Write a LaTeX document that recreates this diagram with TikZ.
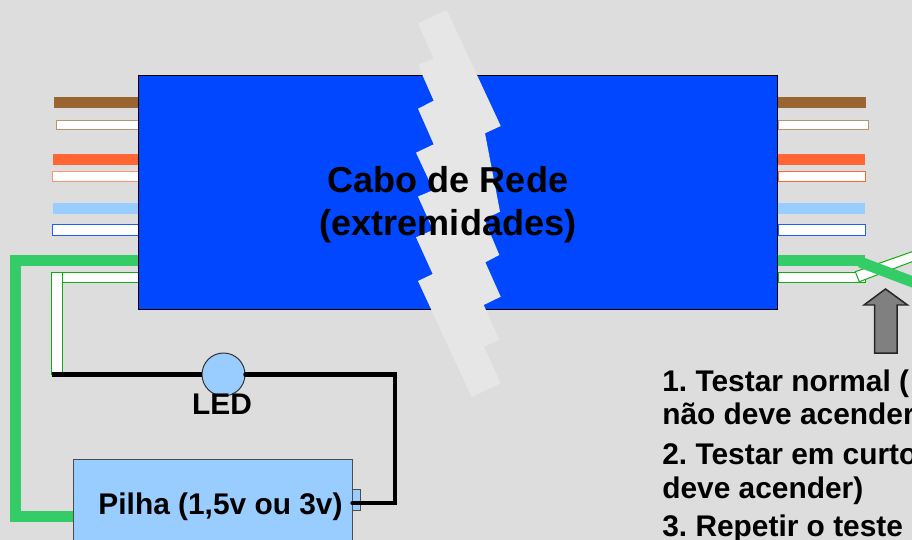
\documentclass[tikz,border=0pt]{standalone}
\usepackage{fontspec}
\setmainfont{Liberation Sans}
\usepackage{color,xcolor}
\definecolor{fundo}{HTML}{DDDDDD}
\definecolor{azulcabo}{HTML}{0047FF}
\definecolor{marrom}{HTML}{996633}
\definecolor{laranja}{HTML}{FF6633}
\definecolor{azulclaro}{HTML}{99CCFF}
\definecolor{azulfio}{HTML}{1F5CFF}
\definecolor{verde}{HTML}{33CC66}
\definecolor{verdefio}{HTML}{11AA11}
\definecolor{faixa}{HTML}{E6E6E6}
\frenchspacing
\tikzset{
  fio/.style={draw=#1,fill=white,line width=0.02cm},
  preto/.style={black,line width=0.09cm},
  verdao/.style={verde,line width=0.22cm},
  titulo/.style={font=\bfseries\fontsize{20.5pt}{24.4pt}\selectfont,align=center},
  rotulo/.style={font=\bfseries\fontsize{17pt}{20pt}\selectfont},
  passo/.style={rotulo,anchor=base west,inner sep=0pt}
}
\begin{document}
\begin{tikzpicture}[x=0.02cm,y=-0.02cm]
    \clip (0,0) rectangle (912,540);
    \fill[fundo] (0,0) rectangle (912,540);
    % fios da esquerda
    \fill[marrom](54,97) rectangle (138,108);
    \draw[fio=marrom!70](56.5,120.5) rectangle (138,130);
    \fill[laranja](53,154) rectangle (138,165);
    \draw[fio=laranja!70](52.5,171.5) rectangle (138,182);
    \fill[azulclaro](53,203) rectangle (138,214);
    \draw[fio=azulfio](52.5,225) rectangle (138,235.5);
    \draw[fio=verdefio](52,272.5) rectangle (138,282.5);
    \draw[fio=verdefio](51.5,272.5) rectangle (62.5,374);
    % fios da direita
    \fill[marrom](778,97) rectangle (866,108);
    \draw[fio=marrom!70](778,120.5) rectangle (868.5,130);
    \fill[laranja](778,154) rectangle (865,165);
    \draw[fio=laranja](778,171.5) rectangle (865,182);
    \fill[azulclaro](778,203) rectangle (865,214);
    \draw[fio=azulfio](778,225) rectangle (865,235.5);
    \draw[fio=verdefio](778,272.5) rectangle (865,282.5);
    \draw[fio=verdefio](855.3,271.7)--(859.3,281.7)--(930,254.9)--(926,246.8)--cycle; % fio cruzado
    \fill[verde](778,255) rectangle (865,266);
    \draw[verdao](860,262)--(930,288.5); % fio em curto
    % cabo
    \node[draw=black,fill=azulcabo,line width=0.02cm,minimum width=12.8cm,minimum height=4.7cm,inner sep=0pt] (cabo) at (458,192.5) {};
    \fill[faixa](418,23.3)--(446.7,10)--(500.7,126)--(485,133.3)--(500,211.7)--(484.3,219.3)--(499.3,255)--(485.3,262.3)--(500.7,296.7)--(483.7,305)--(499.3,340)--(484,346.7)--(500.7,383.3)--(471.7,397)--(418,281)--(432.7,274)--(416,237.3)--(433,230)--(418,196.5)--(433.5,190)--(416,152.7)--(433.7,144.3)--(418,108.7)--(433.7,100.7)--(418,65)--(433.7,58.7)--cycle;
    \node[titulo] (nomecabo) at (448,205) {Cabo de Rede\\(extremidades)};
    % pilha e LED
    \node[draw=black!70,fill=azulclaro,line width=0.02cm,minimum width=5.57cm,minimum height=2.4cm,inner sep=0pt] (pilha) at (212.8,519) {};
    \node[draw=black!70,fill=azulclaro,line width=0.02cm,minimum width=0.16cm,minimum height=0.43cm,inner sep=0pt] (polo) at (356,500) {};
    \coordinate (fimfio) at (52,374.5);
    \coordinate (canto) at (395,374.5);
    \node[draw=black!80,fill=azulclaro,circle,line width=0.02cm,minimum size=0.86cm,inner sep=0pt] (led) at (223.5,374.5) {};
    \draw[preto](fimfio)--(led.west);
    \draw[preto,line cap=round](led.east)--(canto)--(canto |- 0,503)--(pilha.east |- 0,503);
    \draw[verdao](cabo.west |- 0,260.5)--(15.5,260.5)--(15.5,516)--(pilha.west |- 0,516);
    \node[rotulo,inner sep=0pt] (nomeled) at (222,404) {LED};
    \node[rotulo,inner sep=0pt] (nomepilha) at (220.5,507) {Pilha (1,5v ou 3v)};
    % seta
    \draw[draw=black!85,fill=gray,line width=0.03cm](885.5,289)--(907.5,305)--(897,305)--(897,353)--(874.5,353)--(874.5,305)--(864,305)--cycle;
    % passos
    \node[passo] (passo1) at (662,391) {1. Testar normal (};
    \node[passo] (passo1b) at (662,424) {não deve acender};
    \node[passo] (passo2) at (662,464) {2. Testar em curto};
    \node[passo] (passo2b) at (662,498) {deve acender)};
    \node[passo] (passo3) at (662,536) {3. Repetir o teste};
  \end{tikzpicture}
\end{document}
